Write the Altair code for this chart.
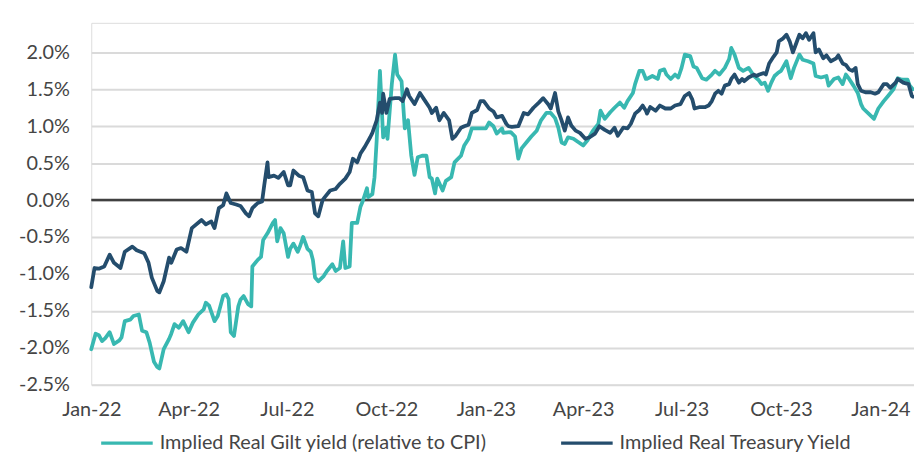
import altair as alt
import pandas as pd

START = "2022-01-01"

# Implied Real Gilt yield (relative to CPI): days since 1 Jan 2022, value in %
gilt_days = [0, 4, 7, 10, 13, 17, 21, 26, 28, 31, 36, 39, 44, 47, 51, 54, 58, 61, 63, 67,
             72, 74, 77, 81, 85, 90, 94, 99, 104, 106, 109, 114, 117, 122, 125, 127, 129, 132, 136, 138,
             141, 145, 148, 149, 154, 157, 159, 163, 168, 170, 172, 175, 178, 182, 184, 187, 191, 193, 196, 200,
             203, 205, 207, 210, 215, 218, 223, 226, 230, 233, 235, 239, 241, 246, 249, 251, 255, 256, 260, 262,
             264, 267, 270, 273, 274, 278, 281, 283, 287, 290, 293, 296, 299, 302, 306, 310, 313, 315, 318, 320,
             325, 328, 333, 336, 338, 342, 345, 349, 352, 357, 361, 365, 368, 372, 375, 380, 381, 388, 392, 395,
             398, 403, 407, 412, 416, 421, 425, 429, 432, 435, 438, 441, 446, 450, 455, 459, 464, 469, 471, 475,
             480, 484, 489, 493, 496, 501, 503, 507, 510, 513, 514, 519, 524, 526, 530, 532, 536, 540, 543, 546,
             549, 554, 557, 560, 565, 569, 574, 577, 581, 586, 590, 592, 595, 599, 603, 608, 613, 617, 620, 623,
             626, 629, 632, 635, 638, 643, 647, 650, 655, 658, 663, 668, 670, 675, 680, 682, 687, 691, 695, 698,
             701, 705, 709, 712, 714, 719, 724, 728, 733, 737, 742, 746, 750, 755, 757, 760]
gilt_vals = [-2.02, -1.81, -1.83, -1.91, -1.87, -1.79, -1.95, -1.90, -1.86, -1.64, -1.62, -1.57, -1.55, -1.77, -1.79, -1.93, -2.19, -2.26, -2.28, -2.02,
             -1.88, -1.81, -1.68, -1.73, -1.64, -1.79, -1.66, -1.55, -1.48, -1.39, -1.43, -1.64, -1.57, -1.30, -1.28, -1.34, -1.79, -1.84, -1.44, -1.35,
             -1.30, -1.41, -1.44, -0.90, -0.81, -0.77, -0.54, -0.45, -0.31, -0.27, -0.56, -0.38, -0.45, -0.77, -0.66, -0.59, -0.70, -0.63, -0.50, -0.66,
             -0.70, -0.81, -1.05, -1.10, -1.03, -0.96, -0.87, -0.96, -0.92, -0.56, -0.92, -0.90, -0.31, -0.31, -0.09, -0.02, 0.16, 0.04, 0.08, 0.31,
             0.81, 1.75, 0.85, 0.98, 0.83, 1.57, 1.97, 1.70, 1.61, 0.97, 1.08, 0.60, 0.34, 0.58, 0.60, 0.60, 0.31, 0.29, 0.09, 0.29,
             0.13, 0.26, 0.31, 0.51, 0.54, 0.60, 0.74, 0.83, 0.97, 0.97, 0.97, 0.97, 1.05, 1.00, 0.90, 0.97, 0.91, 0.92, 0.86, 0.56,
             0.70, 0.79, 0.86, 0.94, 1.08, 1.18, 1.18, 1.11, 0.98, 0.78, 0.76, 0.85, 0.83, 0.79, 0.74, 0.81, 0.94, 1.03, 1.21, 1.10,
             1.19, 1.25, 1.32, 1.25, 1.34, 1.45, 1.57, 1.75, 1.75, 1.64, 1.64, 1.68, 1.64, 1.75, 1.77, 1.70, 1.64, 1.70, 1.66, 1.79,
             1.97, 1.95, 1.81, 1.79, 1.65, 1.63, 1.70, 1.75, 1.70, 1.79, 1.91, 2.06, 1.97, 1.79, 1.75, 1.79, 1.68, 1.63, 1.57, 1.59,
             1.48, 1.59, 1.68, 1.72, 1.75, 1.88, 1.65, 1.79, 1.97, 1.90, 1.88, 1.85, 1.68, 1.66, 1.68, 1.55, 1.64, 1.66, 1.57, 1.70,
             1.64, 1.55, 1.45, 1.30, 1.24, 1.17, 1.10, 1.24, 1.34, 1.41, 1.50, 1.65, 1.63, 1.63, 1.55, 1.50]

# Implied Real Treasury Yield: days since 1 Jan 2022, value in %
tsy_days = [0, 3, 7, 12, 17, 21, 27, 31, 38, 42, 49, 53, 56, 61, 63, 67, 72, 74, 79, 83,
            88, 93, 102, 106, 111, 114, 118, 122, 125, 129, 134, 138, 143, 146, 149, 154, 158, 160, 163, 164,
            169, 173, 178, 182, 184, 187, 192, 196, 200, 204, 207, 210, 214, 216, 221, 226, 230, 235, 239, 242,
            246, 249, 253, 258, 260, 264, 267, 269, 270, 273, 276, 281, 285, 288, 292, 294, 299, 304, 308, 313,
            315, 319, 322, 326, 331, 334, 337, 342, 345, 349, 352, 357, 360, 363, 368, 372, 375, 380, 384, 386,
            389, 395, 400, 404, 409, 414, 418, 423, 425, 429, 432, 435, 438, 441, 444, 448, 452, 457, 461, 466,
            470, 475, 480, 484, 487, 492, 496, 499, 503, 507, 510, 513, 514, 517, 522, 526, 531, 536, 540, 545,
            549, 553, 556, 558, 563, 568, 571, 574, 577, 580, 583, 586, 590, 592, 595, 599, 602, 604, 608, 613,
            615, 618, 622, 624, 627, 631, 634, 636, 640, 643, 646, 649, 652, 655, 658, 661, 664, 668, 670, 673,
            677, 680, 684, 689, 691, 695, 698, 701, 704, 707, 709, 712, 716, 721, 725, 728, 733, 736, 739, 744,
            746, 751, 756, 759, 760]
tsy_vals = [-1.18, -0.92, -0.93, -0.90, -0.74, -0.85, -0.92, -0.70, -0.63, -0.68, -0.72, -0.85, -1.05, -1.23, -1.25, -1.10, -0.78, -0.85, -0.67, -0.65,
            -0.70, -0.38, -0.27, -0.33, -0.29, -0.38, -0.11, -0.07, 0.09, -0.04, -0.06, -0.08, -0.18, -0.22, -0.11, -0.04, -0.02, 0.20, 0.51, 0.31,
            0.33, 0.30, 0.38, 0.20, 0.20, 0.40, 0.33, 0.31, 0.13, 0.11, -0.18, -0.22, 0.00, 0.04, 0.13, 0.15, 0.22, 0.29, 0.38, 0.56,
            0.51, 0.63, 0.72, 0.85, 0.91, 1.08, 1.32, 1.18, 1.44, 1.18, 1.37, 1.38, 1.38, 1.34, 1.50, 1.41, 1.30, 1.45, 1.36, 1.25,
            1.18, 1.25, 1.08, 1.18, 1.08, 0.83, 0.87, 0.98, 1.00, 1.02, 1.18, 1.22, 1.34, 1.34, 1.24, 1.20, 1.12, 1.14, 1.03, 1.00,
            0.99, 1.00, 1.18, 1.16, 1.25, 1.32, 1.38, 1.29, 1.24, 1.45, 1.20, 1.08, 0.94, 1.12, 1.01, 0.94, 0.91, 0.83, 0.85, 0.90,
            1.00, 0.95, 0.91, 0.98, 0.87, 0.98, 0.97, 1.03, 1.17, 1.22, 1.28, 1.21, 1.17, 1.26, 1.21, 1.28, 1.24, 1.24, 1.28, 1.30,
            1.41, 1.45, 1.36, 1.24, 1.26, 1.26, 1.28, 1.34, 1.44, 1.48, 1.44, 1.55, 1.57, 1.64, 1.70, 1.59, 1.64, 1.61, 1.66, 1.70,
            1.68, 1.70, 1.72, 1.70, 1.85, 1.94, 2.00, 2.15, 2.19, 2.24, 2.15, 2.00, 2.12, 2.24, 2.19, 2.26, 2.17, 2.26, 2.00, 2.04,
            1.92, 1.96, 1.88, 1.92, 1.96, 1.85, 1.83, 1.77, 1.75, 1.79, 1.57, 1.48, 1.46, 1.46, 1.44, 1.46, 1.57, 1.57, 1.52, 1.59,
            1.64, 1.59, 1.57, 1.41, 1.40]

series_names = ["Implied Real Gilt yield (relative to CPI)", "Implied Real Treasury Yield"]
series_colors = ["#38b8b1", "#244d6d"]
y_ticks = [-2.5, -2.0, -1.5, -1.0, -0.5, 0.0, 0.5, 1.0, 1.5, 2.0]
zero_level = [0.0]

start = pd.Timestamp(START)
gilt = pd.DataFrame({
    "date": start + pd.to_timedelta(gilt_days, unit="D"),
    "value": gilt_vals,
    "series": series_names[0],
})
tsy = pd.DataFrame({
    "date": start + pd.to_timedelta(tsy_days, unit="D"),
    "value": tsy_vals,
    "series": series_names[1],
})

FONT = "Lato"
TEXT = "#454545"

x_enc = alt.X(
    "date:T",
    title=None,
    scale=alt.Scale(domain=[alt.DateTime(year=2022, month=1, date=1),
                            alt.DateTime(year=2024, month=2, date=1)]),
    axis=alt.Axis(
        values=[alt.DateTime(year=y, month=m, date=1)
                for y in (2022, 2023) for m in (1, 4, 7, 10)] + [alt.DateTime(year=2024, month=1, date=1)],
        format="%b-%y", grid=False, domain=False, ticks=False,
        labelPadding=15, labelFontSize=20, labelFont=FONT, labelColor=TEXT,
        labelFlush=False, labelOverlap=False,
    ),
)
y_enc = alt.Y(
    "value:Q",
    title=None,
    scale=alt.Scale(domain=[-2.5, 2.4], nice=False, zero=False),
    axis=alt.Axis(
        values=y_ticks,
        labelExpr="(datum.value < 0 ? '-' : '') + format(abs(datum.value), '.1f') + '%'",
        grid=True, gridColor="#dadada", gridWidth=2,
        domain=False, ticks=False, labelPadding=22,
        labelFontSize=20, labelFont=FONT, labelColor=TEXT,
    ),
)
color_enc = alt.Color(
    "series:N",
    scale=alt.Scale(domain=series_names, range=series_colors),
    legend=alt.Legend(
        orient="none", legendX=8, legendY=396, direction="horizontal", title=None,
        symbolType="stroke", symbolSize=2704, symbolStrokeWidth=3.5,
        labelFontSize=20, labelFont=FONT, labelColor=TEXT, labelOffset=5,
        labelLimit=0, columnPadding=68,
    ),
)

zero = alt.Chart(pd.DataFrame({"value": zero_level})).mark_rule(
    color="#404040", strokeWidth=2.5
).encode(y=y_enc)

line_style = dict(strokeWidth=3.8, strokeJoin="round", strokeCap="round")
gilt_line = alt.Chart(gilt).mark_line(**line_style).encode(x=x_enc, y=y_enc, color=color_enc)
tsy_line = alt.Chart(tsy).mark_line(**line_style).encode(x=x_enc, y=y_enc, color=color_enc)

chart = alt.layer(zero, gilt_line, tsy_line).properties(
    width=830,
    height=365,
    autosize=alt.AutoSizeParams(type="none"),
    padding={"left": 84, "top": 13, "right": 0, "bottom": 70},
).configure_view(strokeWidth=0, stroke="transparent").configure(font=FONT)

chart.save("out.html", embed_options={"renderer": "svg", "actions": False})
